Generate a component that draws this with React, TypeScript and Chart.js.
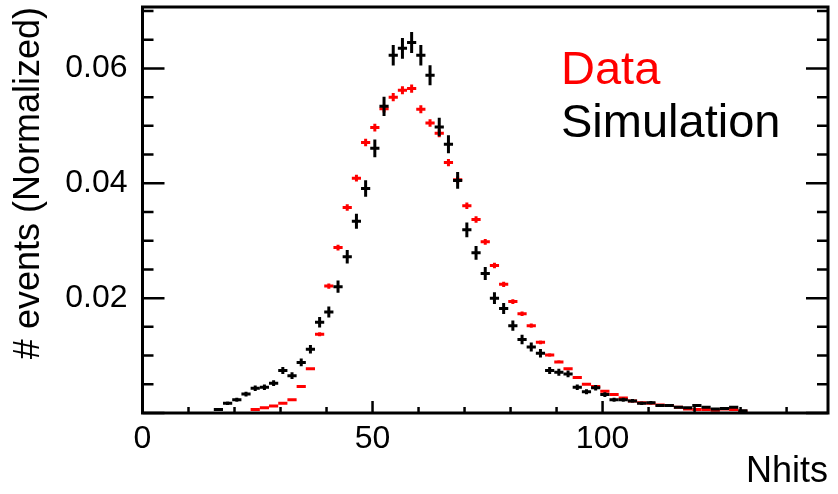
import React, { useEffect, useRef } from 'react';
import { Chart, registerables } from 'chart.js';

Chart.register(...registerables);

// Bin centres of the Nhits histogram (bin width 2)
const BIN_CENTERS = [
  16.5, 18.5, 20.5, 22.5, 24.5, 26.5, 28.5, 30.5, 32.5, 34.5,
  36.5, 38.5, 40.5, 42.5, 44.5, 46.5, 48.5, 50.5, 52.5, 54.5,
  56.5, 58.5, 60.5, 62.5, 64.5, 66.5, 68.5, 70.5, 72.5, 74.5,
  76.5, 78.5, 80.5, 82.5, 84.5, 86.5, 88.5, 90.5, 92.5, 94.5,
  96.5, 98.5, 100.5, 102.5, 104.5, 106.5, 108.5, 110.5, 112.5, 114.5,
  116.5, 118.5, 120.5, 122.5, 124.5, 126.5, 128.5, 130.5,
];

// "Data" (red)
const DATA_VALUES: (number | null)[] = [
  null, null, null, null, 0.0006, 0.0009, 0.0012, 0.0017, 0.0023, 0.0046,
  0.0077, 0.0137, 0.0221, 0.0288, 0.0358, 0.0409, 0.0471, 0.0497, 0.0530, 0.0550,
  0.0562, 0.0565, 0.0529, 0.0505, 0.0487, 0.0436, 0.0406, 0.0361, 0.0337, 0.0298,
  0.0257, 0.0224, 0.0194, 0.0173, 0.0152, 0.0123, 0.0101, 0.0089, 0.0077, 0.0062,
  0.0050, 0.0046, 0.0038, 0.0032, 0.0026, 0.0021, 0.0018, 0.0017, 0.0014, 0.0013,
  0.0010, 0.0007, 0.0006, 0.0006, 0.0005, 0.0007, 0.0006, 0.0003,
];

// "Simulation" (black)
const SIM_VALUES: (number | null)[] = [
  0.0006, 0.0017, 0.0023, 0.0033, 0.0043, 0.0045, 0.0052, 0.0074, 0.0065, 0.0088,
  0.0111, 0.0158, 0.0176, 0.0220, 0.0272, 0.0334, 0.0391, 0.0461, 0.0534, 0.0623,
  0.0635, 0.0645, 0.0623, 0.0588, 0.0498, 0.0468, 0.0405, 0.0319, 0.0279, 0.0243,
  0.0200, 0.0182, 0.0152, 0.0128, 0.0115, 0.0104, 0.0074, 0.0071, 0.0068, 0.0045,
  0.0037, 0.0044, 0.0032, 0.0023, 0.0023, 0.0021, 0.0017, 0.0018, 0.0013, 0.0013,
  0.0010, 0.0009, 0.0013, 0.0010, 0.0007, 0.0008, 0.0010, 0.0004,
];

const X_TICKS = [0, 50, 100];
const Y_TICKS = [0.02, 0.04, 0.06];
const BIN_HALF_WIDTH = 1;
const DATA_ERR_SCALE = 0.003; // error ~ scale * sqrt(value)
const SIM_ERR_SCALE = 0.0072;

const FONT = '"Liberation Sans", Arial, Helvetica, sans-serif';

function buildPoints(values: (number | null)[], scale: number) {
  return BIN_CENTERS.map((c, i) => {
    const v = values[i];
    return { x: c, y: v, err: v == null ? 0 : scale * Math.sqrt(v) };
  }).filter((p) => p.y != null);
}

const zeroPadding = (scale: any) => {
  scale.paddingLeft = 0;
  scale.paddingRight = 0;
  scale.paddingTop = 0;
  scale.paddingBottom = 0;
};

const rootStylePlugin = {
  id: 'rootStyle',
  afterDatasetsDraw(chart: any) {
    const { ctx, chartArea, scales } = chart;
    const xs = scales.x;
    const ys = scales.y;
    ctx.save();
    ctx.beginPath();
    ctx.rect(chartArea.left, chartArea.top, chartArea.right - chartArea.left, chartArea.bottom - chartArea.top);
    ctx.clip();
    chart.data.datasets.forEach((ds: any) => {
      ctx.strokeStyle = ds.borderColor;
      ctx.lineWidth = ds.borderWidth;
      ctx.lineCap = 'butt';
      ds.data.forEach((p: any) => {
        const px = xs.getPixelForValue(p.x);
        const py = ys.getPixelForValue(p.y);
        const xl = xs.getPixelForValue(p.x - BIN_HALF_WIDTH);
        const xr = xs.getPixelForValue(p.x + BIN_HALF_WIDTH);
        const yt = ys.getPixelForValue(p.y + p.err);
        const yb = ys.getPixelForValue(p.y - p.err);
        ctx.beginPath();
        ctx.moveTo(xl, py);
        ctx.lineTo(xr, py);
        ctx.moveTo(px, Math.min(yt, py - 1.5));
        ctx.lineTo(px, Math.max(yb, py + 1.5));
        ctx.stroke();
      });
    });
    ctx.restore();
  },
  afterDraw(chart: any) {
    const { ctx, chartArea, scales } = chart;
    const xs = scales.x;
    const ys = scales.y;
    const { left, right, top, bottom } = chartArea;
    ctx.save();
    ctx.strokeStyle = '#000';
    ctx.lineWidth = 2.5;
    // ticks on y (left and mirrored right), inward
    for (let i = 0; i <= 14; i++) {
      const v = i * 0.005;
      if (v > ys.max) break;
      const py = ys.getPixelForValue(v);
      const len = i % 4 === 0 ? 22 : 11;
      ctx.beginPath();
      ctx.moveTo(left, py);
      ctx.lineTo(left + len, py);
      ctx.moveTo(right, py);
      ctx.lineTo(right - len, py);
      ctx.stroke();
    }
    // ticks on x (bottom), inward
    for (let i = 0; i <= 14; i++) {
      const v = i * 10;
      if (v > xs.max) break;
      const px = xs.getPixelForValue(v);
      const len = i % 5 === 0 ? 12 : 6;
      ctx.beginPath();
      ctx.moveTo(px, bottom);
      ctx.lineTo(px, bottom - len);
      ctx.stroke();
    }
    // frame
    ctx.lineWidth = 3;
    ctx.strokeRect(left, top, right - left, bottom - top);
    // legend text
    ctx.font = `47px ${FONT}`;
    ctx.textAlign = 'left';
    ctx.textBaseline = 'alphabetic';
    ctx.fillStyle = '#ff0000';
    ctx.fillText('Data', 561, 84);
    ctx.fillStyle = '#000000';
    ctx.fillText('Simulation', 561, 137);
    ctx.restore();
  },
};

export default function App() {
  const canvasRef = useRef<HTMLCanvasElement | null>(null);

  useEffect(() => {
    document.body.style.margin = '0';
    const canvas = canvasRef.current;
    if (!canvas) return;
    const chart = new Chart(canvas, {
      type: 'scatter',
      data: {
        datasets: [
          {
            label: 'Data',
            data: buildPoints(DATA_VALUES, DATA_ERR_SCALE) as any,
            borderColor: '#ff0000',
            backgroundColor: '#ff0000',
            borderWidth: 3,
            pointRadius: 0,
            pointHoverRadius: 0,
          },
          {
            label: 'Simulation',
            data: buildPoints(SIM_VALUES, SIM_ERR_SCALE) as any,
            borderColor: '#000000',
            backgroundColor: '#000000',
            borderWidth: 3,
            pointRadius: 0,
            pointHoverRadius: 0,
          },
        ],
      },
      options: {
        animation: false,
        responsive: false,
        maintainAspectRatio: false,
        events: [],
        layout: { padding: { left: 0, right: 10, top: 7, bottom: 0 } },
        plugins: {
          legend: { display: false },
          tooltip: { enabled: false },
          title: { display: false },
        },
        scales: {
          x: {
            type: 'linear',
            position: 'bottom',
            min: 0,
            max: 149,
            border: { display: false },
            grid: { display: false, drawTicks: false },
            afterBuildTicks: (scale: any) => {
              scale.ticks = X_TICKS.map((v) => ({ value: v }));
            },
            ticks: {
              padding: 7,
              color: '#000',
              font: { family: FONT, size: 32 },
              maxRotation: 0,
              minRotation: 0,
              autoSkip: false,
              callback: (v: any) => String(v),
            },
            title: {
              display: true,
              text: 'Nhits',
              align: 'end',
              color: '#000',
              font: { family: FONT, size: 36 },
              padding: { top: 0, bottom: 0 },
            },
            afterFit: (scale: any) => {
              scale.height = 81;
              zeroPadding(scale);
            },
          },
          y: {
            type: 'linear',
            position: 'left',
            min: 0,
            max: 0.0707,
            border: { display: false },
            grid: { display: false, drawTicks: false },
            afterBuildTicks: (scale: any) => {
              scale.ticks = Y_TICKS.map((v) => ({ value: v }));
            },
            ticks: {
              padding: 15,
              color: '#000',
              font: { family: FONT, size: 32 },
              autoSkip: false,
              callback: (v: any) => Number(v).toFixed(2),
            },
            title: {
              display: true,
              text: '# events (Normalized)',
              align: 'end',
              color: '#000',
              font: { family: FONT, size: 36 },
              padding: { top: 7, bottom: 0 },
            },
            afterFit: (scale: any) => {
              scale.width = 142.5;
              zeroPadding(scale);
            },
          },
        },
      },
      plugins: [rootStylePlugin],
    });
    return () => chart.destroy();
  }, []);

  return (
    <div style={{ position: 'fixed', left: 0, top: 0, width: 838, height: 494, background: '#fff' }}>
      <canvas ref={canvasRef} width={838} height={494} style={{ display: 'block' }} />
    </div>
  );
}
